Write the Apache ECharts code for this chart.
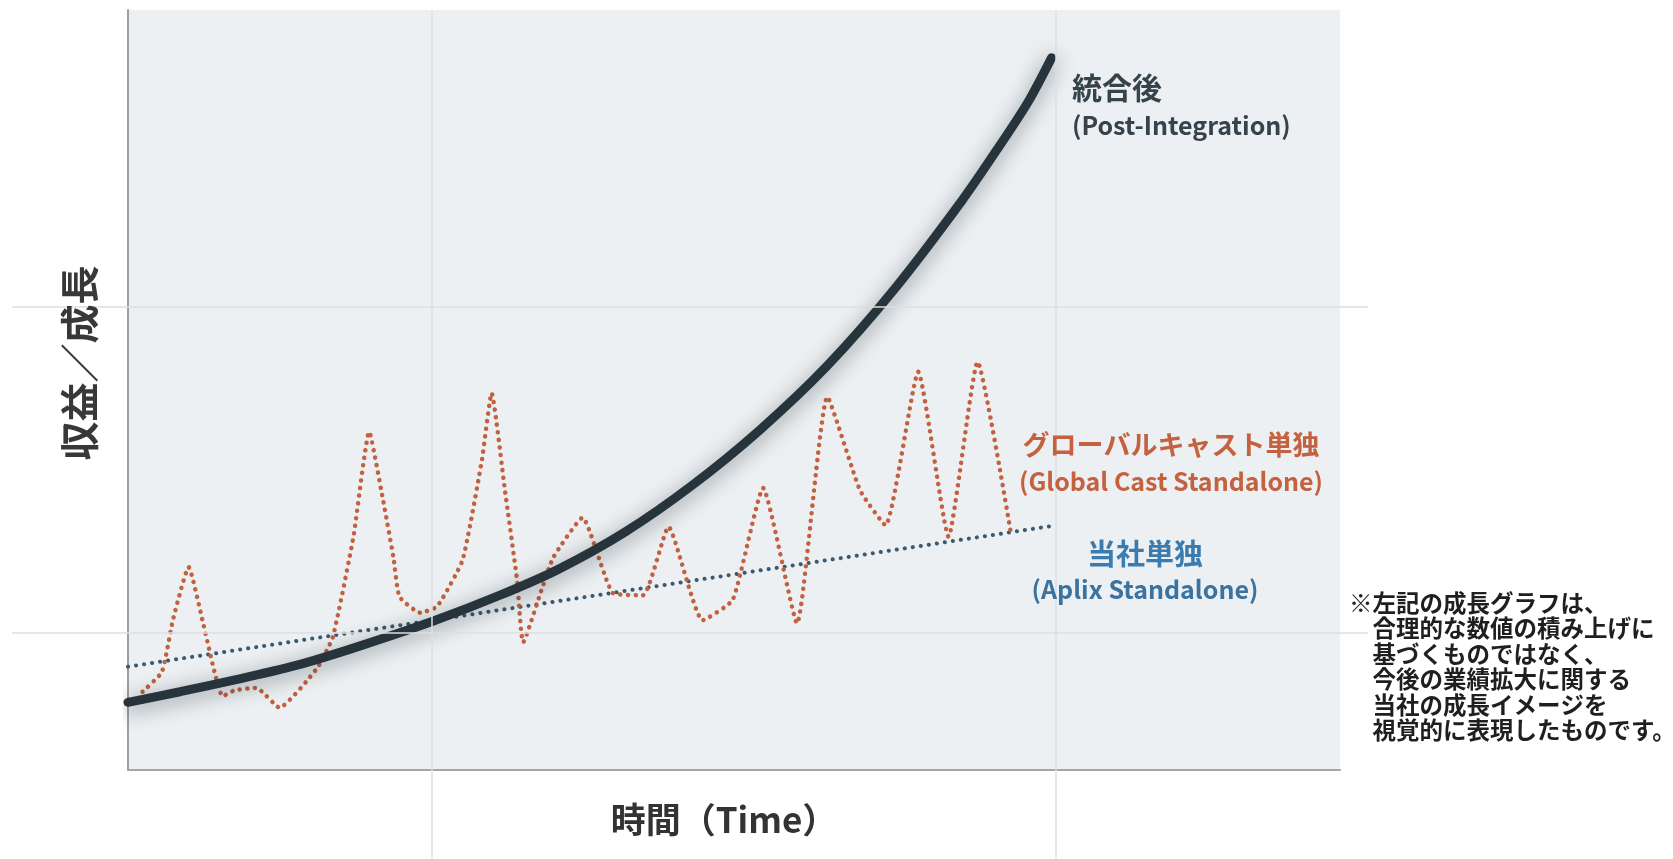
<!DOCTYPE html>
<html>
<head>
    <meta charset="utf-8" />
    <title>成長イメージ</title>
    <script src="https://cdn.jsdelivr.net/npm/echarts@6/dist/echarts.min.js"></script>
    <style>
        html, body { margin: 0; padding: 0; background: #ffffff; }
        #main { width: 1673px; height: 859px; }
    </style>
</head>
<body>
<div id="main"></div>
<script type="text/javascript">
    // [time, value] (time 0-100, value 0-100)
    var postIntegration = [
        [0, 8.9], [4.3, 10.3], [9.2, 12.0], [14.2, 13.9], [19.1, 16.3],
        [25.2, 19.6], [30.7, 23.0], [35.5, 26.4], [41.0, 31.3], [46.5, 37.4],
        [52.1, 44.7], [57.7, 53.2], [63.2, 63.2], [68.8, 74.9], [71.9, 82.1],
        [74.3, 88.0], [76.2, 93.7]
    ];
    var globalCastStandalone = [
        [1.2, 10.3], [2.8, 12.9], [3.7, 19.7], [5.0, 26.7], [6.2, 19.3],
        [7.2, 12.5], [7.8, 9.7], [8.8, 10.5], [10.6, 10.8], [12.5, 8.2],
        [15.6, 13.4], [16.9, 17.5], [18.6, 30.7], [19.9, 44.5], [21.0, 35.9],
        [21.9, 28.0], [22.4, 22.8], [24.1, 20.7], [25.5, 21.5], [27.6, 27.6],
        [29.2, 40.8], [30.0, 49.6], [31.1, 36.8], [32.1, 25.0], [32.6, 16.8],
        [34.2, 24.1], [35.1, 28.0], [37.5, 33.2], [40.0, 23.3], [42.5, 23.0],
        [44.6, 32.0], [47.4, 19.7], [49.9, 22.4], [52.4, 37.1], [55.2, 19.3],
        [57.7, 49.1], [60.4, 36.8], [62.5, 32.2], [65.2, 52.4], [67.7, 30.7],
        [70.1, 53.7], [72.8, 31.6]
    ];
    var aplixStandalone = [[0, 13.6], [76.6, 32.2]];

    var xTitle = '時間（Time）';
    var yTitle = '収益／成長';
    var note = '※左記の成長グラフは、\n　合理的な数値の積み上げに\n　基づくものではなく、\n　今後の業績拡大に関する\n　当社の成長イメージを\n　視覚的に表現したものです。';

    var FONT = '"Noto Sans CJK JP", "Noto Sans", sans-serif';

    function label(text, x, y, size, color, align) {
        return {
            type: 'text', x: x, y: y, z: 10,
            style: {
                text: text, fill: color,
                font: 'bold ' + size + 'px ' + FONT,
                align: align, verticalAlign: 'middle',
                textAlign: align, textVerticalAlign: 'middle'
            }
        };
    }

    var option = {
        animation: false,
        backgroundColor: '#ffffff',
        grid: [
            {left: 128, top: 10, width: 1212, height: 760, show: true,
             backgroundColor: '#edf0f2', borderWidth: 0},
            // full canvas, only used for the long guide lines
            {left: 0, top: 0, width: 1673, height: 859, show: false}
        ],
        xAxis: [
            {gridIndex: 0, type: 'value', min: 0, max: 100,
             axisLine: {show: true, lineStyle: {color: '#a3a7aa', width: 2}},
             axisTick: {show: false}, axisLabel: {show: false}, splitLine: {show: false}},
            {gridIndex: 1, type: 'value', min: 0, max: 1673, show: false}
        ],
        yAxis: [
            {gridIndex: 0, type: 'value', min: 0, max: 100,
             axisLine: {show: true, lineStyle: {color: '#9c9fa2', width: 2}},
             axisTick: {show: false}, axisLabel: {show: false}, splitLine: {show: false}},
            {gridIndex: 1, type: 'value', min: 0, max: 859, inverse: true, show: false}
        ],
        series: [
            {
                type: 'line', xAxisIndex: 1, yAxisIndex: 1, z: 1,
                data: [], showSymbol: false, silent: true,
                markLine: {
                    silent: true, symbol: ['none', 'none'],
                    label: {show: false},
                    lineStyle: {color: '#dcdfe2', width: 1.5, type: 'solid'},
                    data: [
                        [{coord: [432, 10]}, {coord: [432, 859]}],
                        [{coord: [1056, 10]}, {coord: [1056, 859]}],
                        [{coord: [12, 307]}, {coord: [1368, 307]}],
                        [{coord: [12, 633]}, {coord: [1368, 633]}]
                    ]
                }
            },
            {
                name: '当社単独', type: 'line', z: 3,
                data: aplixStandalone, showSymbol: false, silent: true,
                lineStyle: {color: '#3b5a72', width: 4, type: [0.1, 8], cap: 'round'}
            },
            {
                name: 'グローバルキャスト単独', type: 'line', z: 3,
                data: globalCastStandalone, showSymbol: false, silent: true,
                smooth: 0.15,
                lineStyle: {color: '#c2603f', width: 4.5, type: [0.1, 7.5], cap: 'round'}
            },
            {
                name: '統合後', type: 'line', z: 4,
                data: postIntegration, showSymbol: false, silent: true,
                smooth: 0.3,
                lineStyle: {
                    color: '#27343c', width: 9, cap: 'round',
                    shadowBlur: 20, shadowColor: 'rgba(20,40,50,0.5)', shadowOffsetY: 4
                }
            }
        ],
        graphic: [
            label('統合後', 1072, 88, 30, '#37434b', 'left'),
            label('(Post-Integration)', 1072, 125, 25, '#37434b', 'left'),
            label('グローバルキャスト単独', 1171, 445, 27, '#c4613f', 'center'),
            label('(Global Cast Standalone)', 1171, 481, 25, '#c4613f', 'center'),
            label('当社単独', 1145, 554, 29, '#3a7cb0', 'center'),
            label('(Aplix Standalone)', 1145, 589, 25, '#3a72a0', 'center'),
            label(xTitle, 724, 820, 35, '#333333', 'center'),
            {
                type: 'text', x: 79, y: 363, rotation: Math.PI / 2, z: 10,
                style: {
                    text: yTitle, fill: '#383838',
                    font: 'bold 39px ' + FONT,
                    align: 'center', verticalAlign: 'middle',
                    textAlign: 'center', textVerticalAlign: 'middle'
                }
            },
            {
                type: 'text', x: 1349, y: 590, z: 10,
                style: {
                    text: note, fill: '#1f1f1f',
                    font: 'bold 23.5px ' + FONT, lineHeight: 25.5,
                    align: 'left', verticalAlign: 'top',
                    textAlign: 'left', textVerticalAlign: 'top'
                }
            }
        ]
    };

    var myChart = echarts.init(document.getElementById('main'));
    myChart.setOption(option);
</script>
</body>
</html>
